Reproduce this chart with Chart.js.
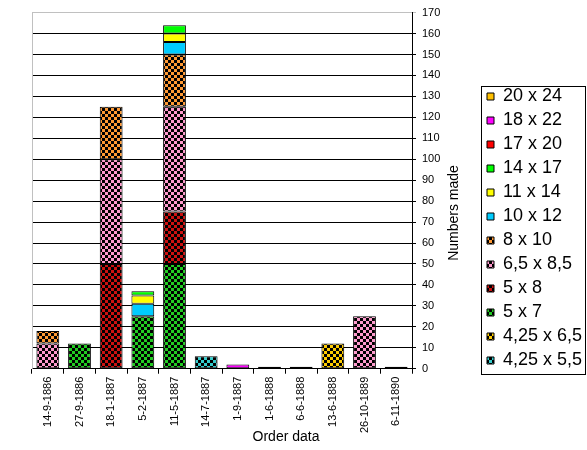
<!DOCTYPE html>
<html>
<head>
<meta charset="utf-8">
<script src="https://cdn.jsdelivr.net/npm/chart.js@4/dist/chart.umd.min.js"></script>
<style>
  html, body { margin: 0; padding: 0; background: #fff; }
  #wrap { width: 587px; height: 450px; }
</style>
</head>
<body>
<div id="wrap"><canvas id="chart"></canvas></div>
<script>
const orderDates = ['14-9-1886', '27-9-1886', '18-1-1887', '5-2-1887', '11-5-1887', '14-7-1887',
  '1-9-1887', '1-6-1888', '6-6-1888', '13-6-1888', '26-10-1889', '6-11-1890'];

// one array per plate size, bottom of the stack first
const size425x55 = [null, null, null, null, null, 6, null, null, null, null, null, null];
const size425x65 = [null, null, null, null, null, null, null, null, null, 12, null, null];
const size5x7    = [null, 12, null, 25, 50, null, null, null, null, null, null, null];
const size5x8    = [null, null, 50, null, 25, null, null, null, null, null, null, null];
const size65x85  = [12, null, 50, null, 50, null, null, null, null, null, 25, null];
const size8x10   = [6, null, 25, null, 25, null, null, null, null, null, null, null];
const size10x12  = [null, null, null, 6, 6, null, null, null, null, null, null, null];
const size11x14  = [null, null, null, 4, 4, null, null, null, null, null, null, null];
const size14x17  = [null, null, null, 2, 4, null, null, null, null, null, null, null];
const size17x20  = [null, null, null, null, null, null, null, 1, 1, null, null, null];
const size18x22  = [null, null, null, null, null, null, 2, null, null, null, null, null];
const size20x24  = [null, null, null, null, null, null, null, null, null, null, null, 1];

const sizeLabels = ['4,25 x 5,5', '4,25 x 6,5', '5 x 7', '5 x 8', '6,5 x 8,5', '8 x 10',
  '10 x 12', '11 x 14', '14 x 17', '17 x 20', '18 x 22', '20 x 24'];
const sizeValues = [size425x55, size425x65, size5x7, size5x8, size65x85, size8x10,
  size10x12, size11x14, size14x17, size17x20, size18x22, size20x24];
const sizeColors = ['#33cccc', '#ffcc00', '#22cc22', '#cc1111', '#ff99cc', '#ff9933',
  '#00ccff', '#ffff00', '#00ff00', '#ff0000', '#ff00ff', '#ffc000'];
const checkered = [true, true, true, true, true, true, false, false, false, false, false, false];

const FONT = "'Liberation Sans', Arial, sans-serif";

function checker(color) {
  const c = document.createElement('canvas');
  c.width = 6; c.height = 6;
  const g = c.getContext('2d');
  g.fillStyle = color;
  g.fillRect(0, 0, 6, 6);
  g.fillStyle = '#000';
  g.fillRect(0, 0, 3, 3);
  g.fillRect(3, 3, 3, 3);
  return g.createPattern(c, 'repeat');
}

const datasets = sizeLabels.map((lab, i) => ({
  label: lab,
  data: sizeValues[i],
  backgroundColor: checkered[i] ? checker(sizeColors[i]) : sizeColors[i],
  borderColor: '#000',
  borderWidth: 1,
  borderSkipped: false,
  barPercentage: 0.72,
  categoryPercentage: 1
}));

// frame, legend box and axis titles
const extras = {
  id: 'extras',
  afterDraw(chart) {
    const ctx = chart.ctx;
    const a = chart.chartArea;
    ctx.save();
    ctx.strokeStyle = '#c0c0c0';
    ctx.lineWidth = 1;
    ctx.beginPath();
    ctx.moveTo(Math.round(a.left) + 0.5, a.top);
    ctx.lineTo(Math.round(a.left) + 0.5, a.bottom);
    ctx.stroke();

    const lg = chart.legend;
    const hb = lg.legendHitBoxes;
    const top = hb[0].top - 2;
    const last = hb[hb.length - 1];
    const bottom = last.top + last.height + 4;
    ctx.strokeStyle = '#000';
    ctx.strokeRect(Math.round(lg.left) + 0.5, Math.round(top) + 0.5,
      chart.width - Math.round(lg.left) - 2, Math.round(bottom - top));

    ctx.fillStyle = '#000';
    ctx.font = '14px ' + FONT;
    ctx.textAlign = 'center';
    ctx.textBaseline = 'middle';
    ctx.fillText('Order data', 286, 437);
    ctx.translate(454, 213);
    ctx.rotate(-Math.PI / 2);
    ctx.fillText('Numbers made', 0, 0);
    ctx.restore();
  }
};

new Chart(document.getElementById('chart'), {
  type: 'bar',
  data: { labels: orderDates, datasets: datasets },
  plugins: [extras],
  options: {
    responsive: true,
    maintainAspectRatio: false,
    animation: false,
    events: [],
    layout: { padding: { left: 32, top: 7, right: 0, bottom: 0 } },
    scales: {
      x: {
        stacked: true,
        grid: { display: true, drawOnChartArea: false, offset: true, color: '#000', tickLength: 5 },
        border: { color: '#000' },
        ticks: {
          minRotation: 90, maxRotation: 90, padding: 3, autoSkip: false,
          color: '#000', font: { size: 11, family: FONT }
        },
        afterFit(scale) { scale.height += 14; }
      },
      y: {
        stacked: true,
        position: 'right',
        min: 0, max: 170,
        grid: {
          color: (c) => c.tick && c.tick.value === 170 ? '#c0c0c0' : '#000',
          tickLength: 4
        },
        border: { color: '#000' },
        ticks: {
          stepSize: 10, padding: 6,
          color: '#000', font: { size: 11, family: FONT }
        },
        afterFit(scale) { scale.width = 69; }
      }
    },
    plugins: {
      legend: {
        position: 'right',
        reverse: true,
        maxWidth: 106,
        labels: {
          boxWidth: 7, boxHeight: 7, padding: 6,
          color: '#000', font: { size: 18, family: FONT }
        }
      },
      tooltip: { enabled: false },
      title: { display: false }
    }
  }
});
</script>
</body>
</html>
